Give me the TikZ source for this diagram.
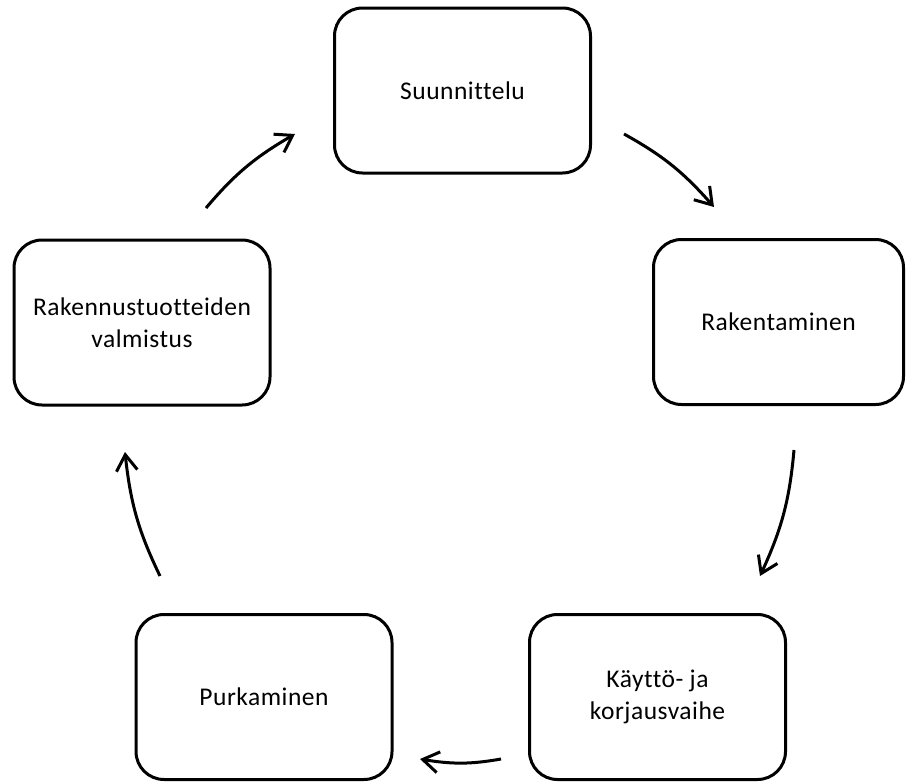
\documentclass[tikz,border=0pt]{standalone}
\usepackage{fontspec}
\setmainfont{Carlito}[LetterSpace=2,Ligatures={NoCommon,NoRare}]
\usetikzlibrary{arrows.meta,bending}
\tikzset{
  stagebox/.style={draw=black, line width=3pt, rounded corners=28pt, align=center,
    minimum width=256pt, minimum height=165pt, inner sep=0pt,
    font=\fontsize{25.5}{32}\selectfont},
  cyclearrow/.style={line width=3pt, -{Straight Barb[length=16pt,width=21pt]}, bend left=10}
}
\begin{document}
\begin{tikzpicture}[x=1pt,y=-1pt]
\useasboundingbox (0,0) rectangle (906,782);
\node[stagebox] (s) at (462.5,90.5) {Suunnittelu};
\node[stagebox, minimum width=250pt] (r) at (778.5,322) {Rakentaminen};
\node[stagebox] (k) at (657.5,697) {Käyttö- ja\\korjausvaihe};
\node[stagebox] (p) at (264,697) {Purkaminen};
\node[stagebox] (v) at (142,322.5) {Rakennustuotteiden\\valmistus};
\coordinate (a1s) at (624,134);
\coordinate (a1e) at (714,207);
\coordinate (a2s) at (794,450);
\coordinate (a2e) at (760,576);
\coordinate (a3s) at (501,759);
\coordinate (a3e) at (420,759);
\coordinate (a4s) at (160,576);
\coordinate (a4e) at (125,452);
\coordinate (a5s) at (206,208);
\coordinate (a5e) at (295,134);
\draw[cyclearrow] (a1s) to (a1e);
\draw[cyclearrow] (a2s) to (a2e);
\draw[cyclearrow] (a3s) to (a3e);
\draw[cyclearrow] (a4s) to (a4e);
\draw[cyclearrow] (a5s) to (a5e);
\end{tikzpicture}
\end{document}
